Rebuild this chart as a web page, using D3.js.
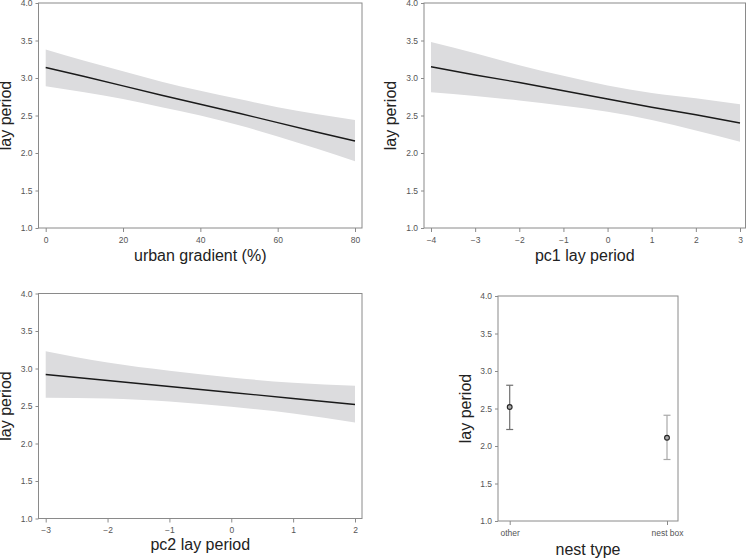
<!DOCTYPE html>
<html><head><meta charset="utf-8">
<script src="https://cdn.jsdelivr.net/npm/d3@7"></script>
<style>body{margin:0;background:#fff}svg{display:block}text{font-family:"Liberation Sans",Arial,sans-serif}</style>
</head><body>
<script>
// ---- data ----
const yTicks = [1.0, 1.5, 2.0, 2.5, 3.0, 3.5, 4.0];

const urbanX     = [0, 10, 20, 30, 40, 50, 60, 70, 80];
const urbanFit   = [3.14, 3.02, 2.895, 2.77, 2.65, 2.53, 2.405, 2.28, 2.16];
const urbanUpper = [3.38, 3.23, 3.09, 2.95, 2.83, 2.72, 2.61, 2.52, 2.44];
const urbanLower = [2.89, 2.81, 2.72, 2.61, 2.50, 2.37, 2.22, 2.06, 1.89];
const urbanTicks = [0, 20, 40, 60, 80];

const pc1X     = [-4, -3, -2, -1, 0, 1, 2, 3];
const pc1Fit   = [3.15, 3.04, 2.94, 2.83, 2.72, 2.61, 2.51, 2.40];
const pc1Upper = [3.48, 3.33, 3.17, 3.03, 2.90, 2.80, 2.73, 2.65];
const pc1Lower = [2.81, 2.76, 2.70, 2.63, 2.55, 2.44, 2.30, 2.15];
const pc1Ticks = [-4, -3, -2, -1, 0, 1, 2, 3];

const pc2X     = [-3, -2, -1, 0, 1, 2];
const pc2Fit   = [2.92, 2.84, 2.76, 2.68, 2.60, 2.52];
const pc2Upper = [3.23, 3.08, 2.97, 2.88, 2.81, 2.77];
const pc2Lower = [2.61, 2.60, 2.56, 2.49, 2.40, 2.28];
const pc2Ticks = [-3, -2, -1, 0, 1, 2];

const nestTypes = ["other", "nest box"];
const nestMean  = [2.52, 2.11];
const nestLower = [2.22, 1.82];
const nestUpper = [2.81, 2.41];

// ---- drawing ----
const svg = d3.select("body").append("svg").attr("width", 750).attr("height", 558);
const FRAME = "#8a8a8a", TICKTXT = "#555", TITLE = "#222";

function frame(g, x0, x1, y0, y1) {
  g.append("rect").attr("x", x0).attr("y", y0).attr("width", x1 - x0).attr("height", y1 - y0)
    .attr("fill", "none").attr("stroke", FRAME).attr("stroke-width", 1);
}
function styleAxis(sel) {
  sel.select(".domain").remove();
  sel.selectAll(".tick line").attr("stroke", FRAME);
  sel.selectAll(".tick text").attr("fill", TICKTXT).attr("font-size", 8.5)
    .attr("font-family", "'Liberation Sans',Arial,sans-serif");
}
function yAxis(g, y, fx0) {
  const a = g.append("g").attr("transform", `translate(${fx0},0)`)
    .call(d3.axisLeft(y).tickValues(yTicks).tickFormat(d3.format(".1f")).tickSize(3).tickPadding(3));
  styleAxis(a);
}
function xAxis(g, x, fy1, ticks) {
  const a = g.append("g").attr("transform", `translate(0,${fy1})`)
    .call(d3.axisBottom(x).tickValues(ticks).tickFormat(d3.format("d")).tickSize(4).tickPadding(4.5));
  styleAxis(a);
}
function title(g, txt, cx, cy, rot) {
  const t = g.append("text").text(txt).attr("font-size", 16).attr("fill", TITLE).attr("text-anchor", "middle");
  if (rot) t.attr("transform", `translate(${cx},${cy}) rotate(-90)`);
  else t.attr("x", cx).attr("y", cy);
}

function linePanel(o) {
  const g = svg.append("g");
  const x = d3.scaleLinear().domain(o.xDomain).range(o.xRange);
  const y = d3.scaleLinear().domain([1, 4]).range([o.fy1, o.fy0]);
  const idx = d3.range(o.xs.length);
  g.append("path").datum(idx)
    .attr("d", d3.area().curve(d3.curveMonotoneX).x(i => x(o.xs[i])).y0(i => y(o.lo[i])).y1(i => y(o.hi[i])))
    .attr("fill", "#dcdcde");
  g.append("path").datum(idx)
    .attr("d", d3.line().x(i => x(o.xs[i])).y(i => y(o.fit[i])))
    .attr("fill", "none").attr("stroke", "#1a1a1a").attr("stroke-width", 1.3);
  frame(g, o.fx0, o.fx1, o.fy0, o.fy1);
  yAxis(g, y, o.fx0);
  xAxis(g, x, o.fy1, o.ticks);
  title(g, "lay period", o.ylx, (o.fy0 + o.fy1) / 2, true);
  title(g, o.xlabel, (o.fx0 + o.fx1) / 2, o.xly, false);
}

linePanel({xs: urbanX, fit: urbanFit, lo: urbanLower, hi: urbanUpper, ticks: urbanTicks,
  xDomain: [0, 80], xRange: [45.7, 355], fx0: 38.5, fx1: 362, fy0: 3, fy1: 228,
  ylx: 11, xly: 261, xlabel: "urban gradient (%)"});
linePanel({xs: pc1X, fit: pc1Fit, lo: pc1Lower, hi: pc1Upper, ticks: pc1Ticks,
  xDomain: [-4, 3], xRange: [431, 740], fx0: 424, fx1: 745.5, fy0: 3, fy1: 228,
  ylx: 396, xly: 261, xlabel: "pc1 lay period"});
linePanel({xs: pc2X, fit: pc2Fit, lo: pc2Lower, hi: pc2Upper, ticks: pc2Ticks,
  xDomain: [-3, 2], xRange: [45.7, 355], fx0: 38.5, fx1: 362, fy0: 293.5, fy1: 518.5,
  ylx: 11, xly: 550, xlabel: "pc2 lay period"});

// nest type panel
(function () {
  const g = svg.append("g");
  const fx0 = 498, fx1 = 678, fy0 = 296, fy1 = 521;
  const x = d3.scalePoint().domain(nestTypes).range([509.7, 667]);
  const y = d3.scaleLinear().domain([1, 4]).range([fy1, fy0]);
  const barCol = ["#707070", "#a8a8a8"];
  nestTypes.forEach((k, i) => {
    const cx = x(k);
    g.append("line").attr("x1", cx).attr("x2", cx).attr("y1", y(nestLower[i])).attr("y2", y(nestUpper[i]))
      .attr("stroke", barCol[i]).attr("stroke-width", 1.2);
    [nestLower[i], nestUpper[i]].forEach(v => {
      g.append("line").attr("x1", cx - 3.5).attr("x2", cx + 3.5).attr("y1", y(v)).attr("y2", y(v))
        .attr("stroke", barCol[i]).attr("stroke-width", 1.2);
    });
    g.append("circle").attr("cx", cx).attr("cy", y(nestMean[i])).attr("r", 2.4)
      .attr("fill", "#aaa").attr("stroke", "#222").attr("stroke-width", 1.1);
  });
  frame(g, fx0, fx1, fy0, fy1);
  yAxis(g, y, fx0);
  const a = g.append("g").attr("transform", `translate(0,${fy1})`)
    .call(d3.axisBottom(x).tickSize(4).tickPadding(4.5));
  styleAxis(a);
  title(g, "lay period", 471, (fy0 + fy1) / 2, true);
  title(g, "nest type", (fx0 + fx1) / 2, 555, false);
})();
</script>
</body></html>
